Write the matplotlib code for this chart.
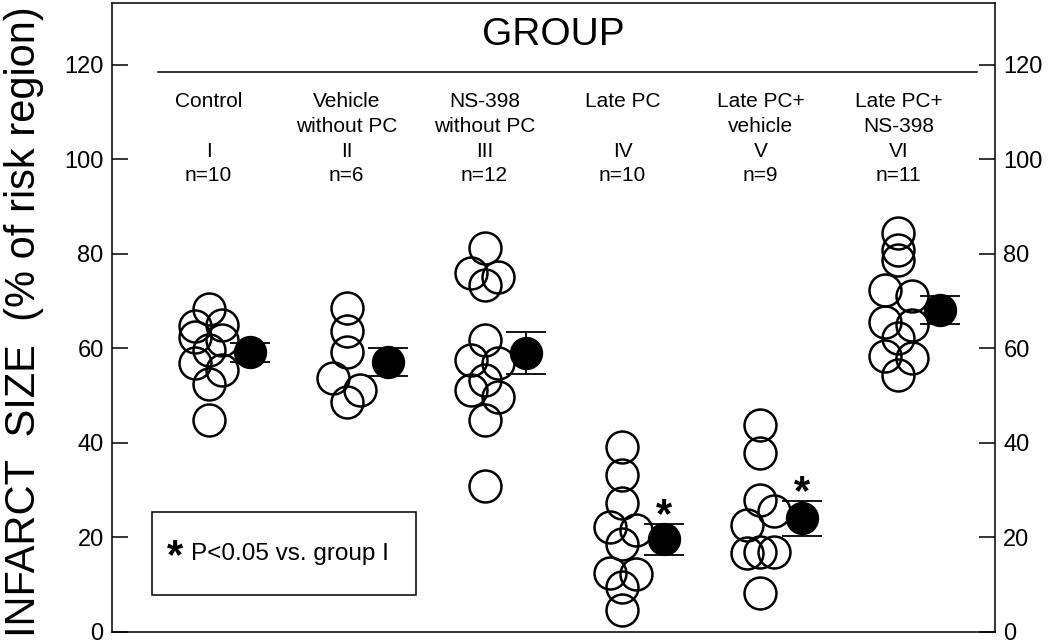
import matplotlib
matplotlib.use('Agg')
import matplotlib.pyplot as plt
from matplotlib.patches import Rectangle

plt.rcParams['font.family'] = ['Liberation Sans', 'DejaVu Sans']

# group positions and labels
groups = [1, 2, 3, 4, 5, 6]
label_top = ['Control', 'Vehicle', 'NS-398', 'Late PC', 'Late PC+', 'Late PC+']
label_mid = ['', 'without PC', 'without PC', '', 'vehicle', 'NS-398']
roman = ['I', 'II', 'III', 'IV', 'V', 'VI']
n_labels = ['n=10', 'n=6', 'n=12', 'n=10', 'n=9', 'n=11']

# individual infarct sizes (% of risk region), with horizontal jitter as drawn
vals_I = [68.3, 65.0, 64.8, 62.5, 61.8, 59.7, 56.9, 55.4, 52.5, 44.9]
off_I = [0, 0.1, -0.1, -0.1, 0.1, 0, -0.1, 0.1, 0, 0]
vals_II = [68.5, 63.6, 59.3, 53.7, 51.2, 48.7]
off_II = [0, 0, 0, -0.1, 0.1, 0]
vals_III = [81.2, 75.9, 75.2, 73.4, 61.8, 57.6, 56.9, 53.3, 51.2, 49.8, 44.9, 30.8]
off_III = [0, -0.1, 0.1, 0, 0, -0.1, 0.1, 0, -0.1, 0.1, 0, 0]
vals_IV = [39.1, 33.2, 27.4, 22.3, 21.6, 18.6, 12.4, 12.3, 9.6, 4.7]
off_IV = [0, 0, 0, -0.09, 0.1, 0, -0.09, 0.1, 0, 0]
vals_V = [43.8, 37.8, 27.9, 25.5, 22.6, 16.7, 17.0, 17.0, 8.2]
off_V = [0, 0, 0, 0.1, -0.1, -0.1, 0, 0.1, 0]
vals_VI = [84.4, 80.8, 78.7, 72.4, 71.0, 65.7, 65.0, 62.2, 58.3, 57.9, 54.4]
off_VI = [0, 0, 0, -0.1, 0.1, -0.1, 0.1, 0, -0.1, 0.1, 0]

all_vals = [vals_I, vals_II, vals_III, vals_IV, vals_V, vals_VI]
all_offs = [off_I, off_II, off_III, off_IV, off_V, off_VI]

# group means and SE
means = [59.2, 57.2, 59.0, 19.6, 24.1, 68.1]
se = [2.0, 3.0, 4.4, 3.3, 3.7, 3.0]
signif = [False, False, False, True, True, False]

fig = plt.figure(figsize=(10.5, 6.43), dpi=100)
ax = fig.add_axes([112 / 1050, 11 / 643, 883 / 1050, 629 / 643])

for g, v, o in zip(groups, all_vals, all_offs):
    ax.plot([g + d for d in o], v, 'o', mfc='none', mec='black', ms=23, mew=1.8, zorder=2)

mx = [g + 0.3 for g in groups]
ax.errorbar(mx, means, yerr=se, fmt='o', color='black', ms=23, capsize=14.5,
            elinewidth=1.3, capthick=1.3, zorder=3)

for x, m, s, sig in zip(mx, means, se, signif):
    if sig:
        ax.text(x, m + s + 1.6, '*', ha='center', va='center', fontsize=30, fontweight='bold')

# group header
ax.text(3.5, 126.3, 'GROUP', ha='center', va='center', fontsize=28)
ax.plot([0.63, 6.57], [118.6, 118.6], color='black', lw=1.1)
for g, t, m, r, n in zip(groups, label_top, label_mid, roman, n_labels):
    ax.text(g, 112.2, t, ha='center', va='center', fontsize=15)
    if m:
        ax.text(g, 106.9, m, ha='center', va='center', fontsize=15)
    ax.text(g, 101.6, r, ha='center', va='center', fontsize=15)
    ax.text(g, 96.5, n, ha='center', va='center', fontsize=15)

# legend box
ax.add_patch(Rectangle((0.59, 7.8), 1.91, 17.6, fill=False, ec='black', lw=1.1))
ax.text(0.76, 15.8, '*', ha='center', va='center', fontsize=30, fontweight='bold')
ax.text(0.87, 16.6, 'P<0.05 vs. group I', ha='left', va='center', fontsize=17.5)

ax.set_xlim(0.3, 6.7)
ax.set_ylim(0, 133.1)
ax.set_xticks([])
ax.set_yticks([0, 20, 40, 60, 80, 100, 120])
ax.tick_params(axis='y', direction='in', length=11.5, width=1.1, labelsize=17,
               right=True, labelright=True, pad=6)
for sp in ax.spines.values():
    sp.set_linewidth(1.1)

fig.text(24 / 1050, 0.5, 'INFARCT  SIZE  (% of risk region)', rotation=90,
         ha='center', va='center', fontsize=30)

fig.savefig('out.png', dpi=100)
